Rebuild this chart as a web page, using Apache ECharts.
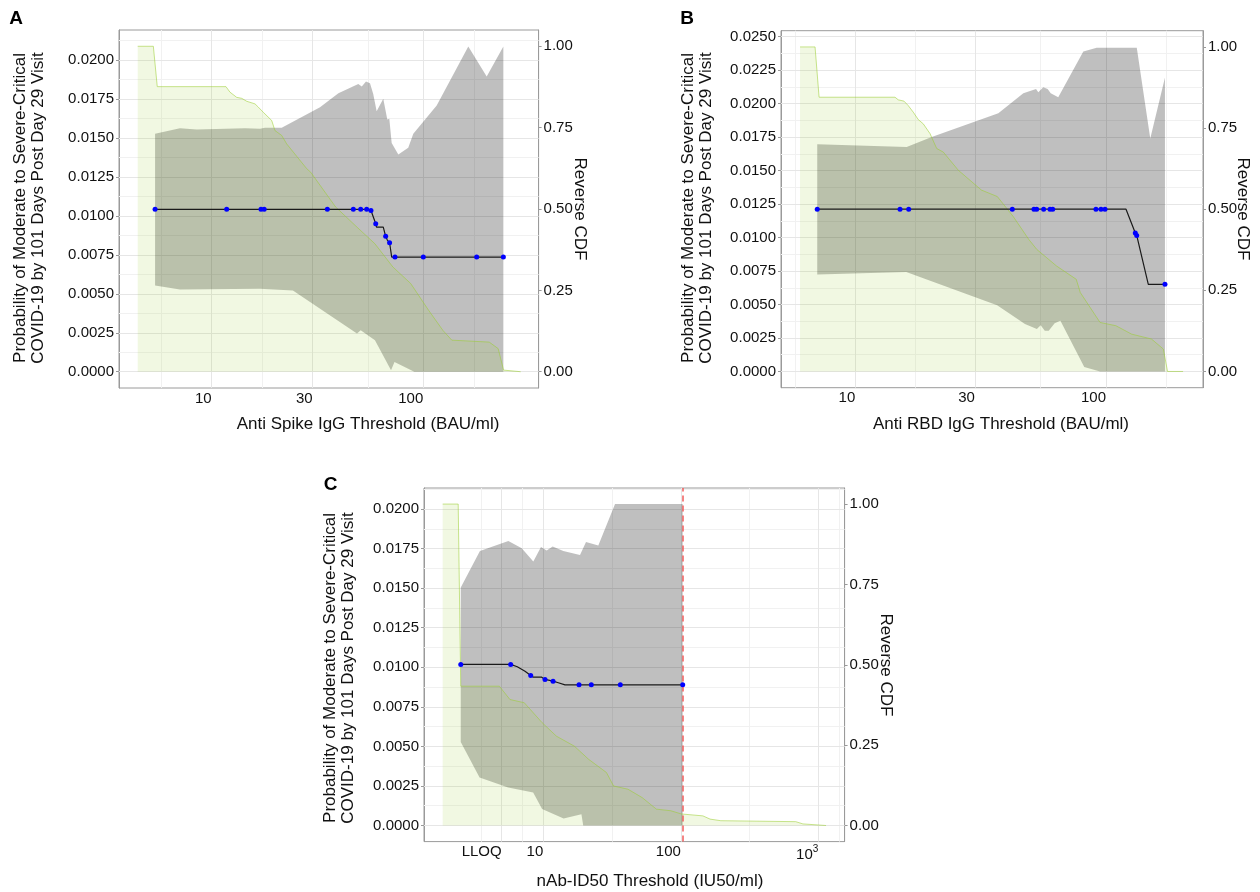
<!DOCTYPE html>
<html><head><meta charset="utf-8">
<script src="https://cdn.jsdelivr.net/npm/echarts@6/dist/echarts.min.js"></script>
<style>html,body{margin:0;padding:0;background:#fff}#c{width:1260px;height:892px}</style>
</head><body><div id="c"></div>
<script>
// ---------------- Panel A: Anti Spike IgG ----------------
const aXTickVals = [10, 30, 100];
const aXTickLabels = ['10', '30', '100'];
const aLineX = [5.40, 54.0, 56.6, 59.6, 60.1, 64.7, 66.4, 67.6, 69.3, 70.9, 239];
const aLineY = [0.01042, 0.01042, 0.01035, 0.0095, 0.00928, 0.00928, 0.00869, 0.00845, 0.00828, 0.00736, 0.00736];
const aPtX = [5.40, 11.77, 17.1, 17.7, 35.2, 46.7, 50.6, 54.0, 56.6, 59.6, 66.4, 69.3, 73.5, 100, 178.8, 239];
const aPtY = [0.01042, 0.01042, 0.01042, 0.01042, 0.01042, 0.01042, 0.01042, 0.01042, 0.01035, 0.0095, 0.00869, 0.00828, 0.00736, 0.00736, 0.00736, 0.00736];
const aUpX = [5.40, 7.08, 8.49, 14.37, 16.92, 17.86, 21.42, 32.5, 39.7, 49.3, 51.2, 53.6, 56.0, 58.0, 60.2, 64.7, 67.6, 69.1, 70.9, 76.2, 84.9, 89.7, 115.7, 163.2, 199.4, 239];
const aUpY = [0.01527, 0.01563, 0.01554, 0.01563, 0.01559, 0.01565, 0.01565, 0.01697, 0.01787, 0.01847, 0.0183, 0.01862, 0.01851, 0.01783, 0.01672, 0.01751, 0.01619, 0.01623, 0.01467, 0.01394, 0.01437, 0.01527, 0.01708, 0.02087, 0.01894, 0.02087];
const aLoX = [5.40, 7.08, 16.9, 24.2, 48.6, 50.6, 59.1, 70.4, 73.1, 90.7, 239];
const aLoY = [0.00554, 0.00527, 0.00532, 0.00522, 0.00245, 0.00266, 0.00202, 0.0001, 0.00063, 0, 0];
const aCdfX = [4.47, 5.30, 5.53, 11.68, 12.2, 13.13, 13.87, 14.64, 16.02, 16.61, 17.54, 19.21, 19.91, 21.42, 22.62, 28.12, 29.37, 38.55, 48.65, 59.1, 71.8, 87.2, 105.9, 123.8, 136.4, 205, 225.9, 239.6, 241.5, 288.6];
const aCdfY = [1.0, 1.0, 0.876, 0.876, 0.859, 0.843, 0.840, 0.831, 0.823, 0.813, 0.797, 0.772, 0.741, 0.726, 0.700, 0.624, 0.613, 0.506, 0.444, 0.393, 0.322, 0.271, 0.189, 0.127, 0.097, 0.091, 0.071, 0.005, 0, 0];

// ---------------- Panel B: Anti RBD IgG ----------------
const bXTickVals = [10, 30, 100];
const bXTickLabels = ['10', '30', '100'];
const bLineX = [7.05, 120.2, 130.9, 132.6, 147.5, 171.9];
const bLineY = [0.01212, 0.01212, 0.01034, 0.01016, 0.00651, 0.00651];
const bPtX = [7.05, 15.08, 16.33, 42.3, 51.6, 52.9, 56.4, 59.8, 61.3, 91.2, 95.5, 99.1, 130.9, 132.6, 171.9];
const bPtY = [0.01212, 0.01212, 0.01212, 0.01212, 0.01212, 0.01212, 0.01212, 0.01212, 0.01212, 0.01212, 0.01212, 0.01212, 0.01034, 0.01016, 0.00651];
const bUpX = [7.05, 16.03, 20.17, 37.2, 46.8, 52.6, 53.7, 56.2, 58.5, 60.2, 64.5, 81.2, 91.8, 132.7, 150.2, 171.9];
const bUpY = [0.01697, 0.01677, 0.01751, 0.01929, 0.02077, 0.0211, 0.02085, 0.02122, 0.0211, 0.02077, 0.02048, 0.02389, 0.02418, 0.02418, 0.01739, 0.02196];
const bLoX = [7.05, 15.97, 36.8, 47.5, 53.0, 54.9, 57.0, 59.1, 62.4, 65.8, 81.9, 94.7, 171.9];
const bLoY = [0.00725, 0.00742, 0.00495, 0.00354, 0.00317, 0.00346, 0.00304, 0.00304, 0.00361, 0.00378, 0.00033, 0, 0];
const bCdfX = [6.02, 6.91, 7.17, 14.4, 14.84, 15.64, 16.27, 17.03, 17.84, 18.67, 19.86, 21.12, 22.44, 25.76, 31.84, 36.85, 42.6, 49.3, 52.97, 63.5, 76.1, 79.0, 94.7, 109.5, 126.6, 151.9, 169.4, 176, 203];
const bCdfY = [1.0, 1.0, 0.845, 0.845, 0.837, 0.833, 0.819, 0.799, 0.776, 0.763, 0.733, 0.687, 0.676, 0.620, 0.559, 0.539, 0.478, 0.406, 0.376, 0.325, 0.284, 0.243, 0.151, 0.141, 0.115, 0.100, 0.069, 0, 0];

// ---------------- Panel C: nAb-ID50 ----------------
const cXTickVals = [4.98, 10, 100, 1000];
const cXTickLabels = ['LLOQ', '10', '100', '{n|10}{s|3}'];
const cLineX = [2.51, 5.79, 6.47, 7.36, 8.10, 8.46, 9.74, 10.29, 11.77, 12.86, 14.38, 103.2];
const cLineY = [0.01018, 0.01018, 0.01003, 0.00975, 0.00948, 0.00937, 0.00937, 0.00923, 0.00912, 0.00902, 0.00889, 0.00889];
const cPtX = [2.51, 5.79, 8.10, 10.29, 11.77, 18.18, 22.34, 36.3, 103.2];
const cPtY = [0.01018, 0.01018, 0.00948, 0.00923, 0.00912, 0.00889, 0.00889, 0.00889, 0.00889];
const cUpX = [2.51, 3.46, 5.57, 6.97, 8.46, 9.62, 10.58, 11.70, 13.98, 18.49, 20.44, 25.12, 33.23, 103.2];
const cUpY = [0.01504, 0.01735, 0.01798, 0.01752, 0.01668, 0.01759, 0.01737, 0.01763, 0.01735, 0.0171, 0.01792, 0.01769, 0.02032, 0.02032];
const cLoX = [2.51, 3.44, 5.55, 8.44, 9.80, 14.05, 18.93, 19.51, 103.2];
const cLoY = [0.00528, 0.00304, 0.00241, 0.00209, 0.00104, 0.00045, 0.00072, 0, 0];
const cCdfX = [1.855, 2.405, 2.51, 4.79, 5.72, 7.27, 9.80, 12.45, 16.81, 21.36, 28.77, 32.45, 41.24, 52.3, 66.4, 84.4, 101, 144.8, 163.1, 195.1, 684.9, 772.7, 1137.6];
const cCdfY = [1.0, 1.0, 0.4335, 0.4335, 0.392, 0.382, 0.320, 0.278, 0.247, 0.206, 0.165, 0.123, 0.113, 0.087, 0.051, 0.046, 0.036, 0.030, 0.020, 0.015, 0.012, 0.005, 0];
const cRefLine = 103;

// ---------------- shared ticks and texts ----------------
const probTicksAC = [0, 0.0025, 0.005, 0.0075, 0.01, 0.0125, 0.015, 0.0175, 0.02];
const probTicksB = [0, 0.0025, 0.005, 0.0075, 0.01, 0.0125, 0.015, 0.0175, 0.02, 0.0225, 0.025];
const cdfTicks = [0, 0.25, 0.5, 0.75, 1];
const yTitle = 'Probability of Moderate to Severe-Critical\nCOVID-19 by 101 Days Post Day 29 Visit';
const rightTitle = 'Reverse CDF';
const xTitles = ['Anti Spike IgG Threshold (BAU/ml)', 'Anti RBD IgG Threshold (BAU/ml)', 'nAb-ID50 Threshold (IU50/ml)'];
const panelLetters = ['A', 'B', 'C'];

// ---------------- build chart ----------------
const FONT = "'Liberation Sans', Arial, Helvetica, sans-serif";
const L = Math.log10;
const toPts = (xs, ys) => xs.map((x, i) => [L(x), ys[i]]);
const COL = {
  band: 'rgba(0,0,0,0.25)', cdfFill: 'rgba(154,205,50,0.2)', cdfLine: 'rgba(154,205,50,0.55)',
  line: '#1a1a1a', pt: '#0000ff', grid: '#e6e6e6', gridMinor: '#f1f1f1', border: '#9a9a9a', text: '#111111'
};

const panels = [
  { grid: {left: 119, top: 30, width: 419.6, height: 358}, xMin: 0.5619, xMax: 2.545, k: 0.020885,
    xt: aXTickVals, xl: aXTickLabels, yt: probTicksAC, line: [aLineX, aLineY], pts: [aPtX, aPtY],
    up: [aUpX, aUpY], lo: [aLoX, aLoY], cdf: [aCdfX, aCdfY], ref: null,
    txt: {letter: [16, 19], y: [29, 208], x: [368, 424], r: [580, 209]} },
  { grid: {left: 781, top: 30.7, width: 422, height: 357}, xMin: 0.7036, xMax: 2.387, k: 0.024236,
    xt: bXTickVals, xl: bXTickLabels, yt: probTicksB, line: [bLineX, bLineY], pts: [bPtX, bPtY],
    up: [bUpX, bUpY], lo: [bLoX, bLoY], cdf: [bCdfX, bCdfY], ref: null,
    txt: {letter: [687, 19], y: [697, 208], x: [1001, 424], r: [1243, 209]} },
  { grid: {left: 424, top: 488, width: 420.6, height: 353.6}, xMin: 0.1324, xMax: 3.191, k: 0.02031,
    xt: cXTickVals, xl: cXTickLabels, yt: probTicksAC, line: [cLineX, cLineY], pts: [cPtX, cPtY],
    up: [cUpX, cUpY], lo: [cLoX, cLoY], cdf: [cCdfX, cCdfY], ref: cRefLine,
    txt: {letter: [330.5, 485], y: [339.5, 668], x: [650, 881], r: [886, 665]} }
];

function minorBreaks(maj, lo, hi) {
  const bd = maj[1] - maj[0];
  const ext = [maj[0] - bd].concat(maj, [maj[maj.length - 1] + bd]);
  const out = [];
  for (let i = 0; i < ext.length - 1; i++) {
    const m = (ext[i] + ext[i + 1]) / 2;
    if (m > lo && m < hi) out.push(m);
  }
  return out;
}

const grids = [], xAxes = [], yAxes = [], series = [], graphics = [];
panels.forEach((p, i) => {
  grids.push(Object.assign({show: true, borderColor: COL.border, borderWidth: 1, containLabel: false}, p.grid));
  const xtLog = p.xt.map(L);
  const yMin = -0.05 * p.k, yMax = 1.05 * p.k;
  xAxes.push({
    type: 'value', gridIndex: i, min: p.xMin, max: p.xMax, position: 'bottom',
    axisLine: {show: true, lineStyle: {color: COL.border, width: 1}},
    axisTick: {show: true, customValues: xtLog, length: 3, lineStyle: {color: COL.border}},
    axisLabel: {
      show: true, customValues: xtLog, margin: 3, align: 'right', color: COL.text, fontSize: 15, fontFamily: FONT,
      formatter: v => { const j = xtLog.findIndex(t => Math.abs(t - v) < 1e-6); return j >= 0 ? p.xl[j] : ''; },
      rich: {n: {fontSize: 15, fontFamily: FONT, color: COL.text}, s: {fontSize: 10, fontFamily: FONT, color: COL.text, padding: [0, 0, 10, 0]}}
    },
    splitLine: {show: false}, minorSplitLine: {show: false}
  });
  yAxes.push({
    type: 'value', gridIndex: i, position: 'left', min: yMin, max: yMax,
    axisLine: {show: true, lineStyle: {color: COL.border}},
    axisTick: {show: true, customValues: p.yt, length: 3, lineStyle: {color: COL.border}},
    axisLabel: {show: true, customValues: p.yt, margin: 5, color: COL.text, fontSize: 15, fontFamily: FONT, formatter: v => v.toFixed(4)},
    splitLine: {show: false}
  });
  yAxes.push({
    type: 'value', gridIndex: i, position: 'right', min: -0.05, max: 1.05,
    axisLine: {show: true, lineStyle: {color: COL.border}},
    axisTick: {show: true, customValues: cdfTicks, length: 3, lineStyle: {color: COL.border}},
    axisLabel: {show: true, customValues: cdfTicks, margin: 5, color: COL.text, fontSize: 15, fontFamily: FONT, formatter: v => v.toFixed(2)},
    splitLine: {show: false}
  });
  const yl = 2 * i, yr = 2 * i + 1;

  // grid lines through markLine
  const gl = [];
  minorBreaks(p.yt, yMin, yMax).forEach(v => gl.push({yAxis: v, lineStyle: {color: COL.gridMinor, width: 1, type: 'solid'}}));
  minorBreaks(xtLog, p.xMin, p.xMax).forEach(v => gl.push({xAxis: v, lineStyle: {color: COL.gridMinor, width: 1, type: 'solid'}}));
  p.yt.forEach(v => gl.push({yAxis: v, lineStyle: {color: COL.grid, width: 1, type: 'solid'}}));
  xtLog.forEach(v => gl.push({xAxis: v, lineStyle: {color: COL.grid, width: 1, type: 'solid'}}));

  const upPts = toPts(p.up[0], p.up[1]);
  const loPts = toPts(p.lo[0], p.lo[1]);
  series.push({
    type: 'custom', xAxisIndex: i, yAxisIndex: yl, z: 3, silent: true, clip: true,
    data: [[1, 0.01]],
    renderItem: function (params, api) {
      const poly = [];
      upPts.forEach(q => poly.push(api.coord(q)));
      loPts.slice().reverse().forEach(q => poly.push(api.coord(q)));
      return {type: 'polygon', shape: {points: poly}, style: {fill: COL.band}};
    }
  });
  series.push({
    type: 'line', xAxisIndex: i, yAxisIndex: yr, z: 4, silent: true, symbol: 'none', showSymbol: false,
    data: toPts(p.cdf[0], p.cdf[1]),
    lineStyle: {color: COL.cdfLine, width: 1}, areaStyle: {color: COL.cdfFill, origin: 'auto'}
  });
  series.push({
    type: 'line', xAxisIndex: i, yAxisIndex: yl, z: 6, silent: true, symbol: 'none', showSymbol: false,
    data: toPts(p.line[0], p.line[1]),
    lineStyle: {color: COL.line, width: 1.2},
    markLine: {z: 1, silent: true, precision: 10, symbol: ['none', 'none'], label: {show: false}, animation: false, data: gl}
  });
  const sc = {
    type: 'scatter', xAxisIndex: i, yAxisIndex: yl, z: 8, silent: true, symbolSize: 5,
    data: toPts(p.pts[0], p.pts[1]), itemStyle: {color: COL.pt, opacity: 1}
  };
  if (p.ref) {
    sc.markLine = {z: 7, silent: true, precision: 10, symbol: ['none', 'none'], label: {show: false}, animation: false,
      data: [{xAxis: L(p.ref), lineStyle: {color: '#f25c5c', width: 1.5, type: [6, 4]}}]};
  }
  series.push(sc);

  // texts
  const t = p.txt;
  graphics.push({type: 'text', x: t.letter[0], y: t.letter[1], silent: true,
    style: {text: panelLetters[i], fill: '#000', font: `bold 19px ${FONT}`, align: 'center', verticalAlign: 'middle', textAlign: 'center', textVerticalAlign: 'middle'}});
  graphics.push({type: 'text', x: t.y[0], y: t.y[1], rotation: Math.PI / 2, silent: true,
    style: {text: yTitle, fill: COL.text, font: `17px ${FONT}`, lineHeight: 18, align: 'center', verticalAlign: 'middle', textAlign: 'center', textVerticalAlign: 'middle'}});
  graphics.push({type: 'text', x: t.x[0], y: t.x[1], silent: true,
    style: {text: xTitles[i], fill: COL.text, font: `17px ${FONT}`, align: 'center', verticalAlign: 'middle', textAlign: 'center', textVerticalAlign: 'middle'}});
  graphics.push({type: 'text', x: t.r[0], y: t.r[1], rotation: -Math.PI / 2, silent: true,
    style: {text: rightTitle, fill: COL.text, font: `17px ${FONT}`, align: 'center', verticalAlign: 'middle', textAlign: 'center', textVerticalAlign: 'middle'}});
});

const chart = echarts.init(document.getElementById('c'), null, {renderer: 'canvas'});
chart.setOption({
  animation: false,
  backgroundColor: '#ffffff',
  textStyle: {fontFamily: FONT},
  grid: grids, xAxis: xAxes, yAxis: yAxes, series: series,
  graphic: {elements: graphics}
});
</script></body></html>
